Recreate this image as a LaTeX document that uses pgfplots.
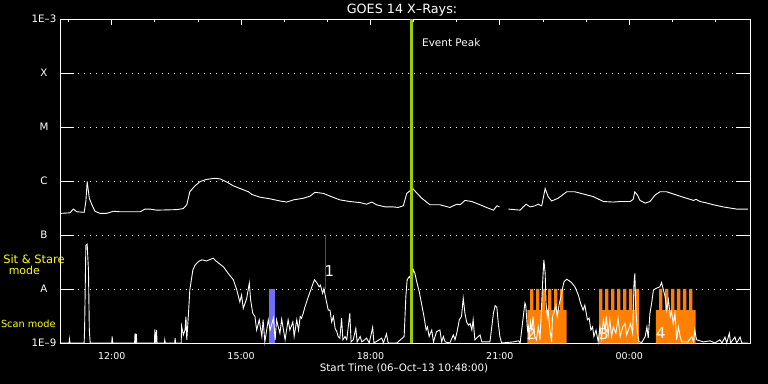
\documentclass[border=0pt]{standalone}
\usepackage{fontspec}
\setmainfont{DejaVu Sans}
\usepackage{pgfplots}
\pgfplotsset{compat=1.18}
\definecolor{ygreen}{RGB}{155,205,0}
\definecolor{sblue}{RGB}{110,110,250}
\definecolor{scanorange}{RGB}{255,128,0}
\definecolor{flmag}{RGB}{190,0,190}
\definecolor{ylw}{RGB}{255,255,0}
\begin{document}
\begin{tikzpicture}
\useasboundingbox (0,0) rectangle (768bp,384bp);
\fill[black] (0,0) rectangle (768bp,384bp);
\begin{axis}[
  at={(60bp,41bp)}, anchor=south west,
  scale only axis, width=690bp, height=324bp,
  xmin=10.8, xmax=26.8, ymin=-9, ymax=-3,
  clip=false,
  axis line style={white, line width=0.9bp},
  xtick={12,15,18,21,24},
  xticklabels={12:00,15:00,18:00,21:00,00:00},
  minor xtick={11,13,14,16,17,19,20,22,23,25,26},
  xtick pos=right, xticklabel pos=left,
  ytick={-9,-8,-7,-6,-5,-4,-3},
  yticklabels={1E–9,A,B,C,M,X,1E–3},
  ytick pos=both,
  tick align=inside,
  xtick style={white, line width=0.9bp, /pgfplots/major tick length=6bp, /pgfplots/minor tick length=3bp},
  ytick style={white, line width=0.9bp, /pgfplots/major tick length=14bp},
  ymajorgrids,
  major grid style={white, line width=0.9bp, dash pattern=on 0.9bp off 5.1bp},
  xticklabel style={white, font=\fontsize{9.5}{11}\selectfont, yshift=-6bp},
  yticklabel style={white, font=\fontsize{10.3}{12}\selectfont, anchor=center, xshift=-16bp},
  unbounded coords=jump,
]
% scan-mode intervals (orange combs)
\addplot[fill=scanorange, draw=none] coordinates {
(21.636,-9) (21.636,-8.39) (21.699,-8.39) (21.699,-8) (21.775,-8) (21.775,-8.39)
(21.838,-8.39) (21.838,-8) (21.914,-8) (21.914,-8.39) (21.977,-8.39) (21.977,-8)
(22.053,-8) (22.053,-8.39) (22.116,-8.39) (22.116,-8) (22.193,-8) (22.193,-8.39)
(22.255,-8.39) (22.255,-8) (22.332,-8) (22.332,-8.39) (22.394,-8.39) (22.394,-8)
(22.471,-8) (22.471,-8.39) (22.550,-8.39) (22.550,-9)} -- cycle;
\addplot[fill=scanorange, draw=none] coordinates {
(23.299,-9) (23.299,-8) (23.375,-8) (23.375,-8.39) (23.438,-8.39) (23.438,-8)
(23.514,-8) (23.514,-8.39) (23.577,-8.39) (23.577,-8) (23.653,-8) (23.653,-8.39)
(23.716,-8.39) (23.716,-8) (23.792,-8) (23.792,-8.39) (23.855,-8.39) (23.855,-8)
(23.931,-8) (23.931,-8.39) (23.994,-8.39) (23.994,-8) (24.070,-8) (24.070,-8.39)
(24.133,-8.39) (24.133,-8) (24.226,-8) (24.226,-9)} -- cycle;
\addplot[fill=scanorange, draw=none] coordinates {
(24.620,-9) (24.620,-8.39) (24.690,-8.39) (24.690,-8) (24.766,-8) (24.766,-8.39)
(24.829,-8.39) (24.829,-8) (24.905,-8) (24.905,-8.39) (24.968,-8.39) (24.968,-8)
(25.044,-8) (25.044,-8.39) (25.107,-8.39) (25.107,-8) (25.184,-8) (25.184,-8.39)
(25.246,-8.39) (25.246,-8) (25.323,-8) (25.323,-8.39) (25.386,-8.39) (25.386,-8)
(25.462,-8) (25.462,-8.39) (25.541,-8.39) (25.541,-9)} -- cycle;
% sit & stare interval (blue)
\addplot[fill=sblue, draw=none] coordinates {(15.65,-9) (15.78,-9) (15.78,-8) (15.65,-8)} -- cycle;
% flare marker
\addplot[flmag, line width=1.2bp] coordinates {(16.95,-8) (16.95,-7)};
% short channel
\addplot[white, line width=0.9bp] coordinates {
(10.80,-9) (11.01,-9) (11.02,-8.93) (11.03,-9) (11.36,-9) (11.37,-8.76) (11.40,-7.19) (11.43,-7.17) (11.46,-7.65) (11.48,-8.76) (11.50,-9)
(12.00,-9) (12.01,-8.88) (12.02,-9) (12.53,-9) (12.54,-8.82) (12.55,-9) (12.57,-8.83) (12.58,-9) (12.99,-9) (13.00,-8.75) (13.02,-9) (13.04,-8.76) (13.05,-9)
(13.22,-9) (13.23,-8.94) (13.24,-9) (13.46,-9) (13.47,-8.91) (13.48,-9) (13.61,-9) (13.62,-8.69) (13.66,-8.85) (13.70,-8.76) (13.72,-8.51) (13.74,-8.94)
(13.78,-8.45) (13.81,-8.02) (13.88,-7.65) (13.93,-7.56) (14.01,-7.49) (14.09,-7.46) (14.20,-7.48) (14.35,-7.43) (14.43,-7.49) (14.59,-7.59) (14.70,-7.71)
(14.82,-7.83) (14.90,-8.02) (14.97,-8.24) (15.01,-8.11) (15.05,-8.36) (15.13,-8.17) (15.19,-7.89) (15.22,-8.20) (15.27,-8.45) (15.32,-8.51) (15.36,-8.76)
(15.42,-8.57) (15.48,-8.88) (15.51,-8.57) (15.55,-8.98) (15.63,-8.57) (15.67,-8.76) (15.75,-8.54) (15.79,-8.94) (15.82,-8.57) (15.90,-8.82) (15.94,-8.56)
(16.02,-8.94) (16.09,-8.57) (16.13,-8.76) (16.20,-8.61) (16.23,-8.88) (16.29,-8.57) (16.33,-8.76) (16.37,-8.51) (16.40,-8.54) (16.44,-8.45) (16.48,-8.33)
(16.56,-8.14) (16.64,-7.96) (16.70,-7.83) (16.75,-7.88) (16.81,-7.96) (16.84,-7.93) (16.89,-8.08) (16.92,-7.99) (16.97,-8.20) (17.02,-8.39) (17.06,-8.39)
(17.10,-8.61) (17.14,-8.51) (17.18,-8.73) (17.22,-8.79) (17.25,-8.88) (17.29,-8.91) (17.33,-8.54) (17.36,-8.94) (17.41,-8.88) (17.45,-8.94) (17.52,-8.45)
(17.55,-8.98) (17.60,-8.94) (17.66,-8.73) (17.69,-8.98) (17.76,-8.88) (17.80,-8.98) (17.91,-8.91) (17.97,-9) (18.05,-8.71) (18.08,-9) (18.26,-8.91)
(18.30,-9) (18.37,-8.83) (18.41,-9) (18.61,-9) (18.78,-8.88) (18.82,-8.14) (18.85,-7.83) (18.90,-7.77) (18.96,-7.86) (18.99,-7.64) (19.03,-7.71)
(19.07,-7.86) (19.13,-8.05) (19.19,-8.30) (19.24,-8.51) (19.29,-8.76) (19.32,-8.70) (19.36,-8.88) (19.42,-8.76) (19.46,-8.98) (19.53,-8.79) (19.61,-8.76)
(19.65,-8.98) (19.69,-8.88) (19.73,-8.98) (19.84,-9) (19.92,-8.85) (19.96,-8.94) (20.00,-8.82) (20.06,-8.57) (20.11,-8.51) (20.15,-8.17) (20.19,-8.45)
(20.23,-8.61) (20.27,-8.67) (20.31,-8.64) (20.35,-8.76) (20.38,-8.57) (20.42,-8.94) (20.50,-8.88) (20.54,-8.85) (20.58,-8.98) (20.77,-8.98) (20.85,-8.45)
(20.89,-8.31) (20.93,-8.34) (20.96,-8.61) (21.00,-8.88) (21.04,-9) (21.31,-8.98) (21.43,-8.96) (21.47,-9) (21.58,-8.26) (21.60,-8.30) (21.64,-8.76)
(21.66,-8.70) (21.68,-8.94) (21.71,-8.61) (21.74,-8.76) (21.77,-8.51) (21.81,-8.88) (21.85,-8.94) (21.89,-8.70) (21.93,-8.94) (21.97,-8.26) (21.99,-7.89)
(22.02,-7.46) (22.05,-7.71) (22.07,-8.26) (22.10,-8.51) (22.12,-8.39) (22.16,-8.76) (22.20,-8.98) (22.22,-8.51) (22.25,-8.45) (22.30,-8.30) (22.33,-8.51)
(22.38,-8.26) (22.41,-8.17) (22.46,-7.96) (22.49,-7.86) (22.55,-7.82) (22.61,-7.85) (22.66,-7.88) (22.74,-7.96) (22.82,-8.11) (22.87,-8.26) (22.93,-8.39)
(22.97,-8.30) (23.03,-8.57) (23.07,-8.54) (23.11,-8.76) (23.15,-8.70) (23.18,-8.88) (23.23,-8.76) (23.28,-8.98) (23.32,-8.70) (23.36,-8.91) (23.40,-8.57)
(23.44,-8.76) (23.47,-8.51) (23.51,-8.85) (23.55,-8.57) (23.59,-8.88) (23.63,-8.70) (23.69,-8.82) (23.74,-8.54) (23.79,-8.88) (23.85,-8.70) (23.90,-8.64)
(23.94,-8.85) (23.98,-8.76) (24.03,-8.64) (24.08,-8.82) (24.11,-7.89) (24.13,-7.71) (24.15,-8.33) (24.19,-8.82) (24.23,-8.98) (24.29,-8.99) (24.37,-8.88)
(24.41,-8.70) (24.44,-8.91) (24.48,-8.45) (24.52,-8.26) (24.56,-8.02) (24.62,-7.99) (24.71,-7.96) (24.75,-7.88) (24.79,-8.01) (24.83,-8.14) (24.87,-8.39)
(24.91,-8.20) (24.95,-8.51) (24.98,-8.42) (25.02,-8.64) (25.06,-8.45) (25.10,-8.94) (25.14,-8.70) (25.18,-8.88) (25.22,-8.98) (25.36,-8.98) (25.45,-8.88)
(25.49,-8.98) (25.52,-8.76) (25.56,-8.94) (25.64,-8.96) (25.72,-8.98) (25.87,-8.96) (25.99,-9) (26.10,-8.94) (26.15,-9) (26.22,-8.89) (26.26,-9)
(26.32,-8.82) (26.35,-9) (26.45,-8.89) (26.49,-9) (26.57,-8.89) (26.61,-9) (26.75,-9)};
% long channel
\addplot[white, line width=0.9bp] coordinates {
(10.80,-6.60) (11.03,-6.59) (11.11,-6.52) (11.19,-6.57) (11.36,-6.58) (11.40,-6.38) (11.43,-6.01) (11.48,-6.32) (11.54,-6.44) (11.61,-6.56) (11.73,-6.60)
(11.88,-6.60) (12.04,-6.56) (12.19,-6.57) (12.66,-6.57) (12.77,-6.52) (12.89,-6.52) (13.04,-6.54) (13.51,-6.53) (13.66,-6.51) (13.74,-6.44) (13.81,-6.20)
(13.93,-6.09) (14.05,-6.01) (14.20,-5.97) (14.39,-5.95) (14.51,-5.96) (14.67,-6.02) (14.82,-6.09) (15.01,-6.15) (15.17,-6.20) (15.25,-6.25) (15.44,-6.30)
(15.67,-6.33) (15.90,-6.37) (16.06,-6.39) (16.21,-6.35) (16.44,-6.32) (16.60,-6.28) (16.71,-6.21) (16.91,-6.23) (17.06,-6.28) (17.29,-6.35) (17.52,-6.38)
(17.76,-6.40) (17.91,-6.43) (18.03,-6.39) (18.14,-6.44) (18.34,-6.48) (18.53,-6.48) (18.64,-6.49) (18.76,-6.46) (18.84,-6.23) (18.98,-6.14) (19.07,-6.22)
(19.19,-6.32) (19.30,-6.39) (19.38,-6.44) (19.61,-6.44) (19.84,-6.49) (20.00,-6.43) (20.08,-6.44) (20.19,-6.36) (20.35,-6.38) (20.54,-6.44) (20.69,-6.49)
(20.85,-6.54) (20.93,-6.46) (20.99,-6.48) (21.1,nan) (21.20,-6.52) (21.47,-6.54) (21.54,-6.48) (21.61,-6.43) (21.70,-6.48) (21.81,-6.46) (21.89,-6.43)
(21.97,-6.46) (22.05,-6.14) (22.12,-6.29) (22.20,-6.37) (22.35,-6.32) (22.55,-6.20) (22.74,-6.20) (22.93,-6.24) (23.17,-6.29) (23.40,-6.38) (23.63,-6.39)
(23.79,-6.38) (24.02,-6.38) (24.09,-6.34) (24.13,-6.20) (24.19,-6.26) (24.25,-6.36) (24.37,-6.41) (24.48,-6.38) (24.60,-6.26) (24.71,-6.20) (24.87,-6.20)
(25.02,-6.24) (25.25,-6.30) (25.49,-6.36) (25.55,-6.34) (25.64,-6.38) (25.76,-6.40) (25.95,-6.44) (26.18,-6.48) (26.41,-6.51) (26.49,-6.52) (26.75,-6.52)};
% event peak
\addplot[ygreen, line width=2.6bp] coordinates {(18.95,-9) (18.95,-3)};
% texts
\node[white, font=\fontsize{12.8}{15}\selectfont] at (axis cs:18.73,-2.833) {GOES 14 X–Rays:};
\node[white, font=\fontsize{10.3}{12}\selectfont] at (axis cs:18.777,-9.463) {Start Time (06–Oct–13 10:48:00)};
\node[white, font=\fontsize{10.5}{12}\selectfont, anchor=west, inner sep=0pt] at (axis cs:19.194,-3.441) {Event Peak};
\node[ylw, font=\fontsize{11.5}{13}\selectfont] at (axis cs:10.197,-7.441) {Sit \& Stare};
\node[ylw, font=\fontsize{11}{13}\selectfont] at (axis cs:9.972,-7.663) {mode};
\node[ylw, font=\fontsize{9.8}{12}\selectfont] at (axis cs:10.065,-8.644) {Scan mode};
\node[white, font=\fontsize{15}{17}\selectfont] at (axis cs:17.049,-7.676) {1};
\node[white, font=\fontsize{15}{17}\selectfont] at (axis cs:21.733,-8.824) {2};
\node[white, font=\fontsize{15}{17}\selectfont] at (axis cs:23.414,-8.833) {3};
\node[white, font=\fontsize{15}{17}\selectfont] at (axis cs:24.736,-8.815) {4};
\end{axis}
\end{tikzpicture}
\end{document}
